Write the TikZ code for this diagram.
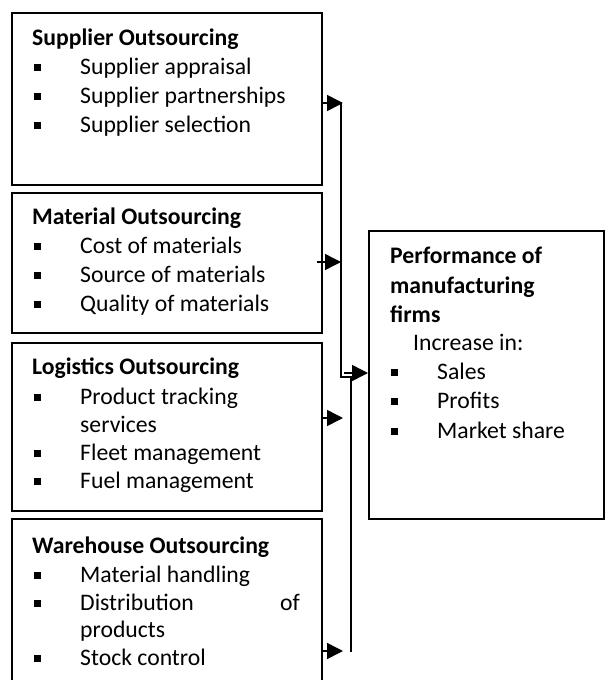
\documentclass[tikz,border=0pt]{standalone}
\usepackage{fontspec}
\setmainfont{Carlito}
\usetikzlibrary{arrows.meta}
\newcommand\bitem[4]{%
  \node[blt] (#1b) at (#2-43,#3-6.5) {};
  \node[txt] (#1t) at (#2,#3) {#4};}
\begin{document}
\begin{tikzpicture}[x=1pt,y=-1pt,
  box/.style={draw, line width=1.5pt, minimum width=310pt, inner sep=0pt, anchor=north west},
  txt/.style={anchor=base west, inner sep=0pt, font=\fontsize{23.7}{29}\selectfont},
  hd/.style={anchor=base west, inner sep=0pt, font=\fontsize{23.7}{29}\selectfont\bfseries},
  blt/.style={fill=black, minimum size=7pt, inner sep=0pt},
  conn/.style={line width=1.5pt},
  arr/.style={conn, -{Triangle[length=16pt,width=16pt]}}]
\useasboundingbox (0,0) rectangle (605,680);

% boxes
\node[box, minimum height=172pt] (b1) at (11,12) {};
\node[box, minimum height=140pt] (b2) at (11,192) {};
\node[box, minimum height=168pt] (b3) at (11,342) {};
\node[box, minimum height=180pt] (b4) at (11,518) {};
\node[box, minimum width=235pt, minimum height=288pt] (p) at (368,230) {};

% box 1
\node[hd] (h1) at (32,45) {Supplier Outsourcing};
\bitem{i11}{80}{74}{Supplier appraisal}
\bitem{i12}{80}{103}{Supplier partnerships}
\bitem{i13}{80}{132}{Supplier selection}

% box 2
\node[hd] (h2) at (32,224) {Material Outsourcing};
\bitem{i21}{80}{253}{Cost of materials}
\bitem{i22}{80}{282}{Source of materials}
\bitem{i23}{80}{311}{Quality of materials}

% box 3
\node[hd] (h3) at (32,374) {Logistics Outsourcing};
\bitem{i31}{80}{404}{Product tracking}
\node[txt] (i31c) at (80,432) {services};
\bitem{i32}{80}{460}{Fleet management}
\bitem{i33}{80}{488}{Fuel management}

% box 4
\node[hd] (h4) at (32,553) {Warehouse Outsourcing};
\bitem{i41}{80}{582}{Material handling}
\bitem{i42}{80}{610}{Distribution}
\node[txt, anchor=base east] (i42o) at (300,610) {of};
\node[txt] (i42c) at (80,637) {products};
\bitem{i43}{80}{665}{Stock control}

% performance box
\node[hd] (ph1) at (390,263) {Performance of};
\node[hd] (ph2) at (390,293) {manufacturing};
\node[hd] (ph3) at (390,322) {firms};
\node[txt] (pin) at (413,350) {Increase in:};
\bitem{p1}{437}{379}{Sales}
\bitem{p2}{437}{408}{Profits}
\bitem{p3}{437}{438}{Market share}

% connector coordinates
\coordinate (s1) at (b1.east |- 0,103);
\coordinate (t1) at (343,103);
\coordinate (s2) at (317,262);
\coordinate (t2) at (341,262);
\coordinate (s3) at (b3.east |- 0,418);
\coordinate (t3) at (343,418);
\coordinate (s4) at (b4.east |- 0,651);
\coordinate (t4) at (343,651);
\coordinate (v1) at (341,103);
\coordinate (j1) at (341,377);
\coordinate (j2) at (351,377);
\coordinate (v2) at (351,652);
\coordinate (sp) at (344,373);

\draw[arr] (s1) -- (t1);
\draw[arr] (s2) -- (t2);
\draw[arr] (s3) -- (t3);
\draw[arr] (s4) -- (t4);
\draw[conn] (v1) -- (j1) -- (j2) -- (v2);
\draw[arr] (sp) -- (p.west |- sp);
\end{tikzpicture}
\end{document}
